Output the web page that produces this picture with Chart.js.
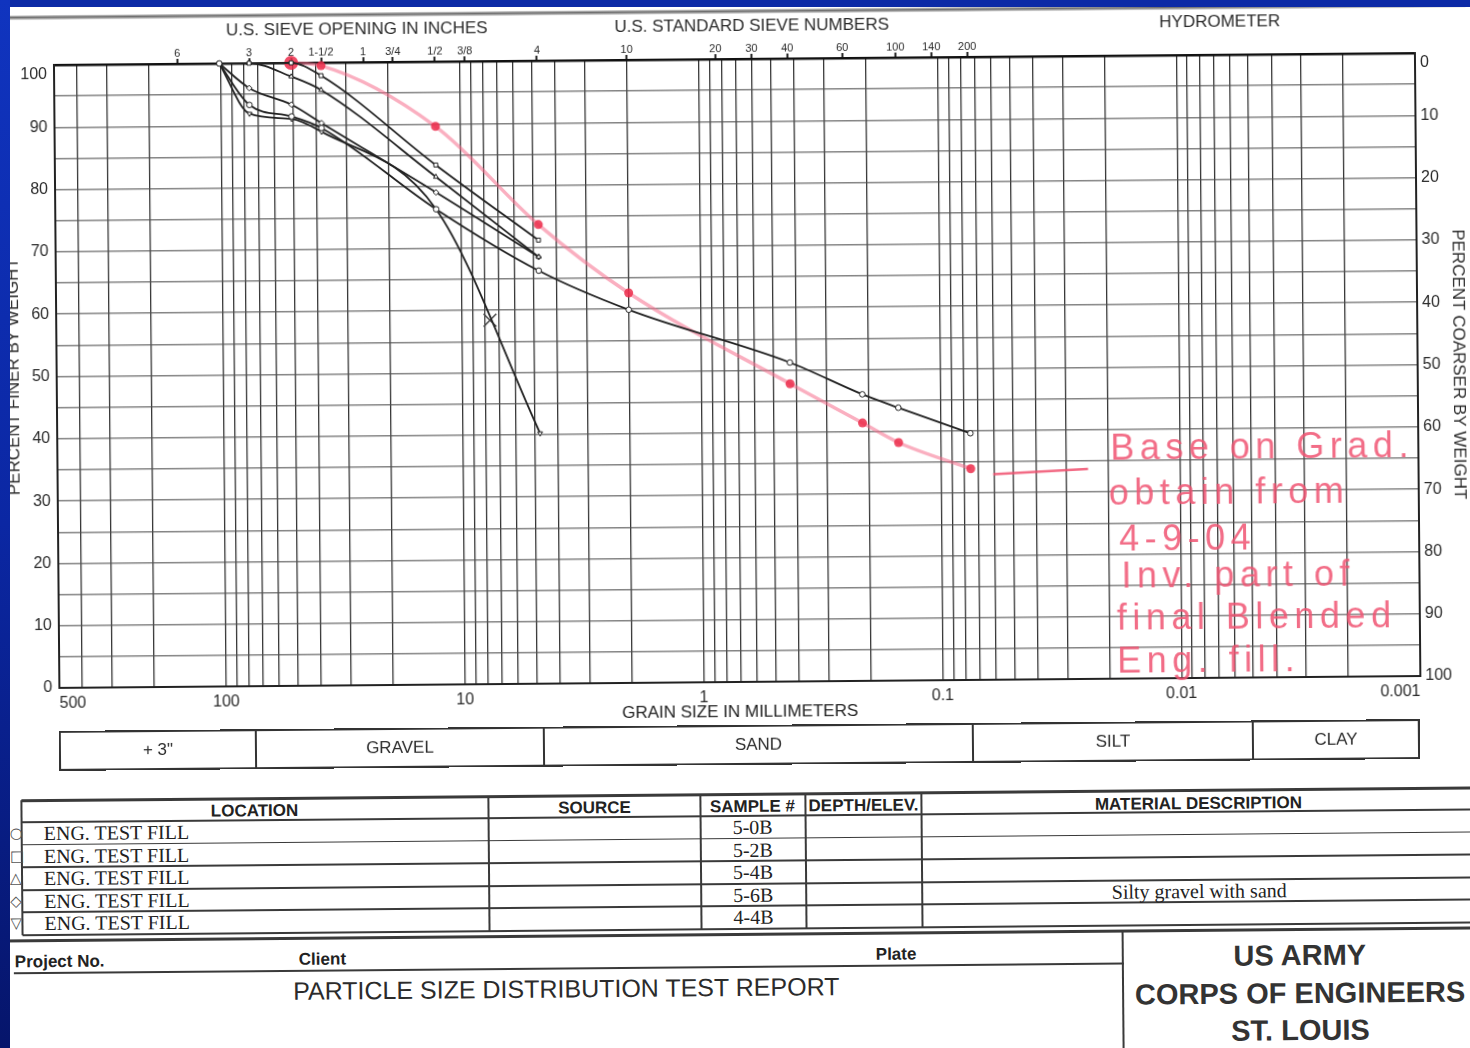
<!DOCTYPE html>
<html lang="en">
<head>
<meta charset="utf-8">
<title>Particle Size Distribution Test Report</title>
<script src="https://cdn.jsdelivr.net/npm/chart.js@4.4.1/dist/chart.umd.min.js"></script>
<style>
  html, body { margin: 0; padding: 0; }
  body {
    width: 1470px; height: 1048px; overflow: hidden; position: relative;
    background: linear-gradient(180deg, #1034bf 0%, #0b27a3 50%, #06156b 100%);
    font-family: "Liberation Sans", Arial, sans-serif; color: #2b2b2b;
  }
  #paper { position: absolute; left: 10px; top: 7px; right: 0; bottom: 0; background: #fff; }
  /* the scanned page sits a little crooked on the slide */
  #sheet { position: absolute; left: 0; top: 0; width: 1470px; height: 1048px;
           transform: rotate(-0.5deg); transform-origin: 735px 524px; }
  #edge-left { position: absolute; left: 0; top: 0; width: 10px; height: 1048px; z-index: 10;
               background: linear-gradient(180deg, #1034bf 0%, #0b27a3 50%, #06156b 100%); }
  #edge-top { position: absolute; left: 0; top: 0; width: 1470px; height: 7px; z-index: 10; background: #0c2aa6; }
  #scanline { position: absolute; left: 0; top: 9px; width: 1470px; height: 5px;
              background: linear-gradient(180deg, #dcdcdc, #707070 45%, #a4a4a4 70%, #f0f0f0); }
  #chart { position: absolute; left: 0; top: 0; }
  .hdr { position: absolute; top: 15px; font-size: 17px; line-height: 22px; white-space: nowrap;
         transform: translateX(-50%); }
  .note { position: absolute; font-size: 36px; line-height: 40px; letter-spacing: 5.5px; white-space: nowrap;
          color: rgba(240, 84, 114, 0.85); }
  #classbar { position: absolute; left: 57px; top: 725px; width: 1361px; height: 40px; box-sizing: border-box;
              border: 2px solid #333; display: flex; }
  #classbar div { box-sizing: border-box; border-right: 2px solid #333; text-align: center;
                  font-size: 17px; line-height: 36px; }
  #classbar div:last-child { border-right: none; flex: 1; }
  .ln { position: absolute; background: #3a3a3a; }
  .th { position: absolute; top: 796px; font-weight: bold; font-size: 17px; line-height: 22px; white-space: nowrap;
        transform: translateX(-50%); color: #222; }
  .td { position: absolute; font-family: "Liberation Serif", "Times New Roman", serif; font-size: 20px;
        line-height: 22px; white-space: nowrap; color: #222; }
  .mk { position: absolute; font-family: "DejaVu Sans", sans-serif; font-size: 15px; line-height: 22px; color: #555; }
  .ft { position: absolute; font-weight: bold; font-size: 17px; line-height: 22px; white-space: nowrap; color: #222; }
  .big { position: absolute; font-weight: bold; font-size: 29px; line-height: 34px; white-space: nowrap;
         transform: translateX(-50%); color: #333; }
</style>
</head>
<body>
<div id="paper"></div>
<div id="sheet">
  <div id="scanline"></div>
  <canvas id="chart" width="1470" height="730"></canvas>

  <div class="hdr" style="left:361px">U.S. SIEVE OPENING IN INCHES</div>
  <div class="hdr" style="left:756px">U.S. STANDARD SIEVE NUMBERS</div>
  <div class="hdr" style="left:1224px">HYDROMETER</div>

  <div class="note" style="left:1111px; top:431px">Base on Grad.</div>
  <div class="note" style="left:1109px; top:476px">obtain from</div>
  <div class="note" style="left:1119px; top:522px">4-9-04</div>
  <div class="note" style="left:1121px; top:559px">Inv. part of</div>
  <div class="note" style="left:1116px; top:601px">final Blended</div>
  <div class="note" style="left:1116px; top:644px">Eng. fill.</div>

  <div id="classbar">
    <div style="width:196px">+ 3"</div>
    <div style="width:288px">GRAVEL</div>
    <div style="width:429px">SAND</div>
    <div style="width:280px">SILT</div>
    <div>CLAY</div>
  </div>

  <div class="th" style="left:252px">LOCATION</div>
  <div class="th" style="left:592px">SOURCE</div>
  <div class="th" style="left:750px">SAMPLE #</div>
  <div class="th" style="left:861px">DEPTH/ELEV.</div>
  <div class="th" style="left:1196px; top:797px">MATERIAL DESCRIPTION</div>

  <div class="ft" style="left:11px; top:945px">Project No.</div>
  <div class="ft" style="left:295px; top:945px">Client</div>
  <div class="ft" style="left:872px; top:945px">Plate</div>
  <div style="position:absolute; left:289px; top:973px; font-size:25px; line-height:28px; white-space:nowrap; color:#2b2b2b">PARTICLE SIZE DISTRIBUTION TEST REPORT</div>
  <div class="big" style="left:1296px; top:943px">US ARMY</div>
  <div class="big" style="left:1296px; top:981px">CORPS OF ENGINEERS</div>
  <div class="big" style="left:1296px; top:1018px">ST. LOUIS</div>
</div>
<div id="edge-top"></div>
<div id="edge-left"></div>

<script>
// sieve openings on the top axis (mm) and their printed names
const sieveMm = [152.4, 76.2, 50.8, 38.1, 25.4, 19.05, 12.7, 9.525, 4.75, 2.0, 0.85, 0.6, 0.425, 0.25, 0.15, 0.106, 0.075];
const sieveLabels = ["6", "3", "2", "1-1/2", "1", "3/4", "1/2", "3/8", "4", "10", "20", "30", "40", "60", "100", "140", "200"];

// labelled grain sizes on the bottom axis (mm)
const grainMm = [500, 100, 10, 1, 0.1, 0.01, 0.001];
const grainLabels = ["500", "100", "10", "1", "0.1", "0.01", "0.001"];

// sieves used for the samples (mm)
const gravelMm = [101.6, 76.2, 50.8, 38.1, 12.7, 4.75];
const fullMm = [101.6, 76.2, 50.8, 38.1, 12.7, 4.75, 2.0, 0.425, 0.212, 0.15, 0.075];

// percent finer for each sample
const s50B = [100, 93.3, 91.4, 89.5, 76.3, 66.3, 59.9, 51.2, 46.0, 43.8, 39.6];
const s52B = [100, 100, 100, 97.9, 83.4, 71.2];
const s54B = [100, 100, 97.8, 95.6, 81.5, 68.5];
const s56B = [100, 96.0, 93.3, 90.3, 79.0, 68.5];
const s44B = [100, 91.9, 91.0, 88.9, 76.3, 40.2];

// red hand-drawn blended gradation
const blendMm = [50.8, 38.1, 12.7, 4.75, 2.0, 0.425, 0.212, 0.15, 0.075];
const blendPct = [100, 99.5, 89.6, 73.7, 62.6, 47.8, 41.4, 38.2, 33.9];

// red pointer line and the pencil cross
const arrowMm = [0.0604, 0.0242];
const arrowPct = [33.0, 33.7];
const crossMm = [7.63];
const crossPct = [58.4];

// table rows
const markers = ["\u25CB", "\u25A1", "\u25B3", "\u25C7", "\u25BD"];
const locations = ["ENG. TEST FILL", "ENG. TEST FILL", "ENG. TEST FILL", "ENG. TEST FILL", "ENG. TEST FILL"];
const samples = ["5-0B", "5-2B", "5-4B", "5-6B", "4-4B"];
const descriptions = ["", "", "", "Silty gravel with sand", ""];

// log grid lines 1..9 x 10^n between 0.001 and 500 mm
const gridMm = [];
for (let e = -3; e <= 2; e++) {
  for (let k = 1; k <= 9; k++) {
    const v = k * Math.pow(10, e);
    if (v <= 500) gridMm.push(v);
  }
}

function pts(xs, ys) {
  return xs.map((x, i) => ({ x: x, y: ys[i] }));
}

const sample = {
  borderColor: "#222",
  borderWidth: 1.8,
  pointRadius: 2.8,
  pointBackgroundColor: "#fff",
  pointBorderColor: "#222",
  pointBorderWidth: 1,
  cubicInterpolationMode: "monotone",
  fill: false,
  clip: 8,
};

Chart.defaults.font.family = '"Liberation Sans", Arial, sans-serif';
Chart.defaults.color = "#2b2b2b";

new Chart(document.getElementById("chart"), {
  type: "line",
  data: {
    datasets: [
      { label: "5-0B", data: pts(fullMm, s50B), pointStyle: "circle", ...sample },
      { label: "5-2B", data: pts(gravelMm, s52B), pointStyle: "rect", ...sample },
      { label: "5-4B", data: pts(gravelMm, s54B), pointStyle: "triangle", ...sample },
      { label: "5-6B", data: pts(gravelMm, s56B), pointStyle: "rectRot", ...sample },
      { label: "4-4B", data: pts(gravelMm, s44B), pointStyle: "triangle", pointRotation: 180, ...sample },
      {
        label: "mark",
        data: pts(crossMm, crossPct),
        showLine: false,
        pointStyle: "crossRot",
        pointRadius: 9,
        pointBorderColor: "#444",
        pointBorderWidth: 1.5,
      },
      {
        label: "blend",
        data: pts(blendMm, blendPct),
        borderColor: "rgba(245,110,140,0.55)",
        borderWidth: 3.5,
        pointRadius: (c) => (c.dataIndex === 0 ? 7 : 4.5),
        pointBackgroundColor: "rgba(236,45,75,0.85)",
        pointBorderWidth: 0,
        cubicInterpolationMode: "monotone",
        clip: 10,
      },
      {
        label: "arrow",
        data: pts(arrowMm, arrowPct),
        borderColor: "rgba(240,80,110,0.85)",
        borderWidth: 2.5,
        pointRadius: 0,
      },
    ],
  },
  options: {
    responsive: false,
    animation: false,
    layout: { padding: 0 },
    plugins: { legend: { display: false }, tooltip: { enabled: false } },
    scales: {
      x: {
        type: "logarithmic",
        position: "bottom",
        reverse: true,
        min: 0.001,
        max: 500,
        afterBuildTicks: (axis) => {
          axis.ticks = gridMm.map((v) => ({ value: v }));
        },
        afterFit: (axis) => {
          axis.height = 48;
        },
        grid: { color: "rgba(20,20,20,0.85)", lineWidth: 1.3, drawTicks: false },
        border: { color: "#222", width: 2 },
        ticks: {
          autoSkip: false,
          maxRotation: 0,
          align: "inner",
          padding: 6,
          font: { size: 16 },
          callback: (v) => {
            const i = grainMm.findIndex((g) => Math.abs(g - v) / g < 1e-6);
            return i >= 0 ? grainLabels[i] : "";
          },
        },
        title: {
          display: true,
          text: "GRAIN SIZE IN MILLIMETERS",
          color: "#222",
          font: { size: 17 },
          padding: { top: 0, bottom: 7 },
        },
      },
      x2: {
        type: "logarithmic",
        position: "top",
        reverse: true,
        min: 0.001,
        max: 500,
        afterBuildTicks: (axis) => {
          axis.ticks = sieveMm.map((v) => ({ value: v }));
        },
        afterFit: (axis) => {
          axis.height = 59;
        },
        grid: { drawOnChartArea: false, drawTicks: true, tickLength: 5, tickWidth: 2, tickColor: "#222" },
        border: { color: "#111", width: 2.5 },
        ticks: {
          autoSkip: false,
          maxRotation: 0,
          padding: -2,
          font: { size: 11 },
          callback: (v) => sieveLabels[sieveMm.indexOf(v)],
        },
      },
      y: {
        type: "linear",
        position: "left",
        min: 0,
        max: 100,
        afterFit: (axis) => {
          axis.width = 58;
        },
        grid: { color: "rgba(80,80,80,0.7)", lineWidth: 1.5, drawTicks: false },
        border: { color: "#222", width: 2 },
        ticks: {
          stepSize: 5,
          autoSkip: false,
          padding: 7,
          font: { size: 16 },
          // top label sits just inside the frame, as printed
          callback: (v) => (v === 100 ? ["", "100"] : v % 10 === 0 ? v : ""),
        },
        title: {
          display: true,
          text: "PERCENT FINER BY WEIGHT",
          font: { size: 17 },
          padding: { top: 5 },
        },
      },
      y2: {
        type: "linear",
        position: "right",
        min: 0,
        max: 100,
        reverse: true,
        afterFit: (axis) => {
          axis.width = 51;
        },
        grid: { drawOnChartArea: false, drawTicks: false },
        border: { color: "#222", width: 2 },
        ticks: {
          stepSize: 10,
          padding: 5,
          font: { size: 16 },
          callback: (v) => (v === 0 ? ["", "0"] : v),
        },
        title: {
          display: true,
          text: "PERCENT COARSER BY WEIGHT",
          font: { size: 17 },
          padding: 0,
        },
      },
    },
  },
});

// ruled table under the chart
const sheet = document.getElementById("sheet");

function line(x, y, w, h) {
  const d = document.createElement("div");
  d.className = "ln";
  d.style.left = x + "px";
  d.style.top = y + "px";
  d.style.width = w + "px";
  d.style.height = h + "px";
  sheet.appendChild(d);
}

function text(cls, str, x, y, center) {
  const d = document.createElement("div");
  d.className = cls;
  d.textContent = str;
  d.style.left = x + "px";
  d.style.top = y + "px";
  if (center) d.style.transform = "translateX(-50%)";
  sheet.appendChild(d);
}

const rowY = [794, 816, 838.6, 861.2, 883.8, 906.4, 929];
const colX = [19, 486, 698, 803, 919];

rowY.forEach((y, i) => line(19, y - 1, 1460, i === 0 ? 2.5 : 1.8));
colX.forEach((x) => line(x - 1, 794, 1.8, 135));

samples.forEach((s, i) => {
  const y = rowY[i + 1];
  text("mk", markers[i], 7, y);
  text("td", locations[i], 41, y, false);
  text("td", s, 750, y, true);
  if (descriptions[i]) text("td", descriptions[i], 1196, y, true);
});

// footer rules
line(0, 933, 1480, 2.5);
line(10, 966, 1110, 1.8);
line(1118, 934, 2, 120);
</script>
</body>
</html>
